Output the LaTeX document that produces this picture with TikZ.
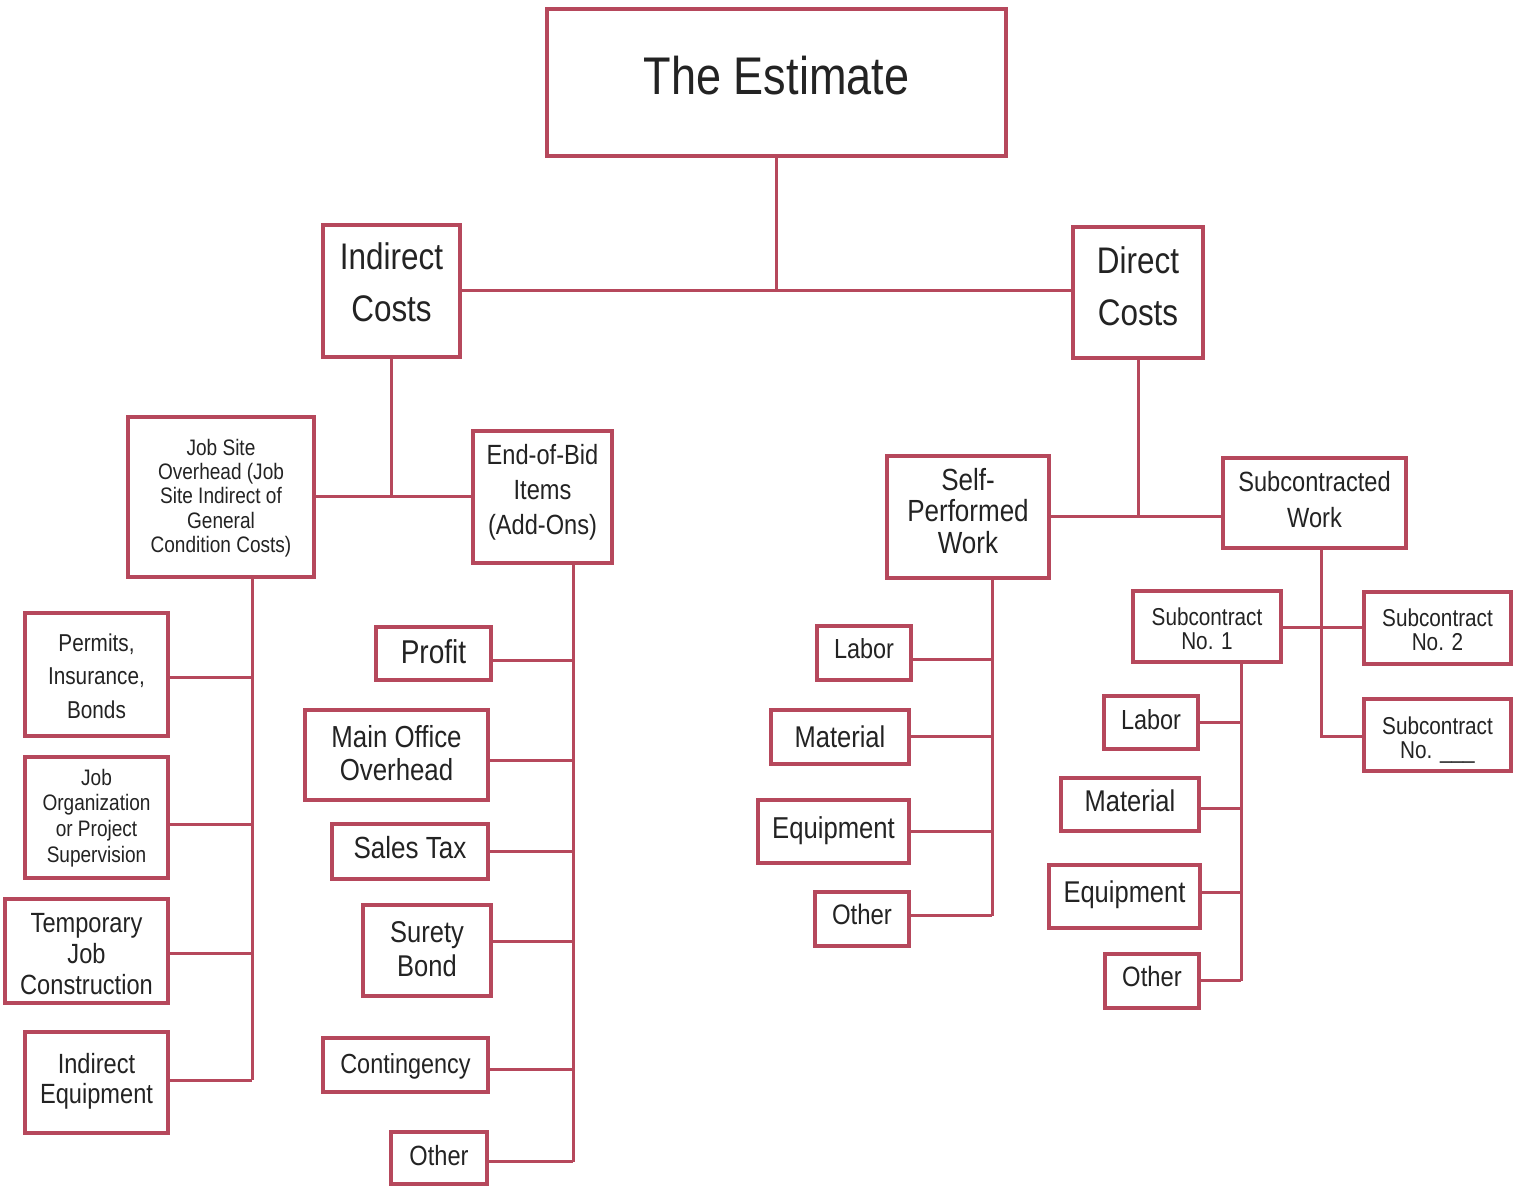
\documentclass[tikz,border=0pt]{standalone}
\usepackage{fontspec}
\setmainfont[FakeStretch=0.85]{Liberation Sans}
\definecolor{boxc}{RGB}{182,72,92}
\definecolor{txtc}{RGB}{35,35,35}
\tikzset{
  bx/.style={draw=boxc, line width=1.7pt, align=center, text=txtc, inner sep=0pt, fill=white},
  ln/.style={draw=boxc, line width=1.5pt},
}
% name, x1, y1, x2, y2, font size, baselineskip, raise (pt), text
\newcommand\mybox[9]{%
  \node[bx, minimum width={(#4-#2)*0.5pt}, minimum height={(#5-#3)*0.5pt},
        font=\fontsize{#6}{#7}\selectfont] (#1) at ({(#2+#4)/2},{(#3+#5)/2})
        {\raisebox{#8pt}[\height][\depth]{\begin{tabular}{@{}c@{}}#9\end{tabular}}};}
\begin{document}
\begin{tikzpicture}[x=0.5pt,y=-0.5pt]
\useasboundingbox[fill=white] (0,0) rectangle (1523,1186);

\mybox{est}{547}{9}{1006}{156}{26.5}{32}{0.5}{The Estimate}
\mybox{ind}{323}{225}{460}{357}{18.5}{26}{3}{Indirect\\Costs}
\mybox{dir}{1073}{227}{1203}{358}{18.5}{26}{1.75}{Direct\\Costs}

\mybox{jso}{128}{417}{314}{577}{11.2}{12.1}{-1}{Job Site\\Overhead (Job\\Site Indirect of\\General\\Condition Costs)}
\mybox{eob}{473}{431}{612}{563}{13.9}{17.5}{2.25}{End-of-Bid\\Items\\(Add-Ons)}

\mybox{perm}{25}{613}{168}{736}{12.2}{16.7}{-1.75}{Permits,\\Insurance,\\Bonds}
\mybox{jorg}{25}{757}{168}{878}{11.2}{12.8}{-0.5}{Job\\Organization\\or Project\\Supervision}
\mybox{temp}{5}{899}{168}{1003}{13.9}{15.5}{-3}{Temporary\\Job\\Construction}
\mybox{ieq}{25}{1032}{168}{1133}{13.9}{15}{0}{Indirect\\Equipment}

\mybox{prof}{376}{627}{491}{680}{16.5}{20}{-1}{Profit}
\mybox{mo}{305}{710}{488}{800}{15.2}{16.5}{-1}{Main Office\\Overhead}
\mybox{stax}{332}{824}{488}{879}{15.3}{18}{0}{Sales Tax}
\mybox{sb}{363}{905}{491}{996}{15}{17}{-1}{Surety\\Bond}
\mybox{cont}{323}{1038}{488}{1092}{13.8}{16}{-1}{Contingency}
\mybox{othA}{391}{1132}{487}{1184}{13.9}{16}{-0.5}{Other}

\mybox{spw}{887}{456}{1049}{578}{15.3}{15.7}{0.75}{Self-\\Performed\\Work}
\mybox{scw}{1223}{458}{1406}{548}{13.9}{18}{0.5}{Subcontracted\\Work}

\mybox{labA}{817}{626}{911}{680}{13.8}{16}{0.5}{Labor}
\mybox{matA}{771}{710}{909}{764}{15}{17}{-2}{Material}
\mybox{eqA}{758}{800}{909}{863}{15.1}{17}{0}{Equipment}
\mybox{othB}{815}{892}{909}{946}{14.1}{16}{0.5}{Other}

\mybox{subA}{1133}{591}{1281}{662}{12.2}{11.8}{-3}{Subcontract\\No. 1}
\mybox{subB}{1364}{592}{1511}{664}{12.2}{11.8}{-2.5}{Subcontract\\No. 2}
\mybox{subN}{1364}{699}{1511}{771}{12.2}{11.8}{-3}{Subcontract\\No. \_\_\_}

\mybox{labB}{1104}{696}{1198}{749}{13.8}{16}{-0.5}{Labor}
\mybox{matB}{1061}{778}{1199}{831}{15}{17}{0}{Material}
\mybox{eqB}{1049}{865}{1200}{928}{15}{17}{0.5}{Equipment}
\mybox{othC}{1105}{954}{1199}{1008}{14}{16}{0.5}{Other}

% top level
\draw[ln] (est.south) -- (est.south |- ind.east);
\draw[ln] (ind.east) -- (ind.east -| dir.west);
% indirect
\draw[ln] (ind.south) -- (ind.south |- jso.east);
\draw[ln] (jso.east) -- (jso.east -| eob.west);
% direct
\draw[ln] (dir.south) -- (dir.south |- spw.east);
\draw[ln] (spw.east) -- (spw.east -| scw.west);

% job site bus
\coordinate (jsb) at ([xshift=15.5pt]jso.south);
\draw[ln] (jsb) -- ([yshift=1pt]jsb |- ieq.east);
\foreach \n/\s in {perm/-1.75pt,jorg/-3.75pt,temp/-1.5pt,ieq/1pt}
  \draw[ln] ([yshift=\s]\n.east) -- ([yshift=\s]\n.east -| jsb);

% end-of-bid bus
\coordinate (eobb) at ([xshift=15.25pt]eob.south);
\draw[ln] (eobb) -- ([yshift=-2pt]eobb |- othA.east);
\foreach \n/\s in {prof/-3.75pt,mo/-3pt,stax/0pt,sb/4.25pt,cont/-2.5pt,othA/-2pt}
  \draw[ln] ([yshift=\s]\n.east) -- ([yshift=\s]\n.east -| eobb);

% self-performed bus
\coordinate (spb) at ([xshift=12pt]spw.south);
\draw[ln] (spb) -- ([yshift=1.5pt]spb |- othB.east);
\foreach \n/\s in {labA/-3.5pt,matA/0pt,eqA/0pt,othB/1.5pt}
  \draw[ln] ([yshift=\s]\n.east) -- ([yshift=\s]\n.east -| spb);

% subcontracted bus
\coordinate (scb) at ([xshift=3.25pt]scw.south);
\draw[ln] (scb) -- ([yshift=-1pt]scb |- subN.west) -- ([yshift=-1pt]subN.west);
\draw[ln] ([yshift=-0.75pt]subA.east) -- ([yshift=-0.75pt]subA.east -| subB.west);

% subcontract no. 1 bus
\coordinate (sab) at ([xshift=17pt]subA.south);
\draw[ln] (sab) -- (sab |- othC.east);
\foreach \n/\s in {labB/0pt,matB/-2.25pt,eqB/1.75pt,othC/0pt}
  \draw[ln] ([yshift=\s]\n.east) -- ([yshift=\s]\n.east -| sab);
\end{tikzpicture}
\end{document}
